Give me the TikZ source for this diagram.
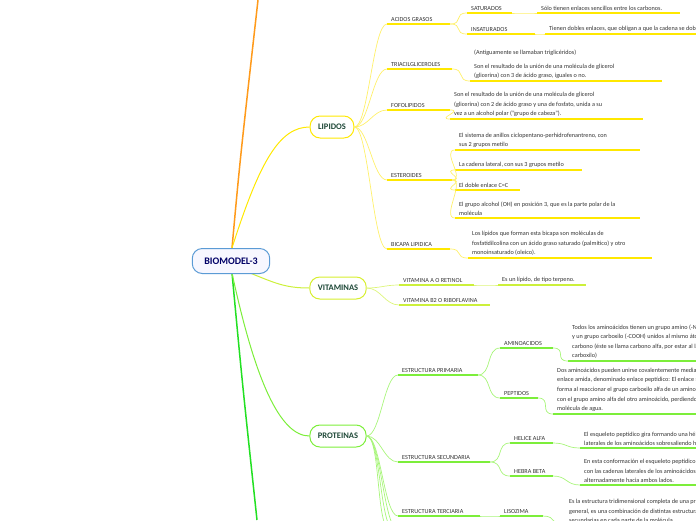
\documentclass[tikz,border=0pt]{standalone}
\usepackage{fontspec}
\setmainfont{Carlito}
\begin{document}
\begin{tikzpicture}[x=1pt,y=-1pt,
  mainnode/.style={draw,rounded corners=10pt,line width=1pt,minimum height=22pt,inner xsep=8pt,font=\fontsize{8.5}{10}\selectfont\bfseries,text={rgb,255:red,30;green,72;blue,55}},
  txt/.style={anchor=south west,inner sep=1pt,align=left,font=\fontsize{6.2}{9.6}\selectfont,text=black!80},
  ul/.style={line width=1.4pt},
  cn/.style={line width=0.7pt},
]
\useasboundingbox (0,0) rectangle (696,520);
\definecolor{cY}{HTML}{FFE800}
\definecolor{cYl}{HTML}{FFF06A}
\definecolor{cV}{HTML}{CCF03A}
\definecolor{cVl}{HTML}{DDF57A}
\definecolor{cP}{HTML}{7CEE3A}
\definecolor{cPl}{HTML}{A8F57A}
\definecolor{cG}{HTML}{22E022}
\definecolor{cO}{HTML}{FF9A1A}
\definecolor{cB}{HTML}{5B9BD5}
\newcommand{\leaf}[6]{%
  \draw[ul,#5] (#2,#3) coordinate (#1-s) -- (#4,#3) coordinate (#1-e);
  \node[txt] (#1) at (#2+3,#3-1) {#6};}
\newcommand{\conn}[3]{\draw[cn,#3] (#1) .. controls +(14,0) and +(-14,0) .. (#2);}

% root
\coordinate (rt) at (232,248);
\coordinate (rb) at (232,273);
\coordinate (otop) at (258,0);
\coordinate (gbot) at (257,520);
\draw[cO,line width=1.5pt] (rt) .. controls (240,160) .. (otop);
\draw[cG,line width=1.5pt] (rb) .. controls (242,380) .. (gbot);
\node[mainnode,draw=cY] (lip) at (332,127) {LIPIDOS};
\node[mainnode,draw=cV!80!cY] (vit) at (338,288) {VITAMINAS};
\node[mainnode,draw=cP] (pro) at (338,436) {PROTEINAS};
\draw[cY,line width=1pt] (rt) .. controls (260,160) and (280,127) .. (lip.west);
\draw[cV,line width=1pt] (250,273) .. controls (275,283) and (285,288) .. (vit.west);
\draw[cP,line width=1pt] (rb) .. controls (255,380) and (280,436) .. (pro.west);
\node[mainnode,draw=cB,fill=blue!3,font=\fontsize{10}{12}\selectfont\bfseries,text=blue!40!black,minimum height=25pt,inner xsep=12pt] (root) at (231,261) {BIOMODEL-3};

% LIPIDOS
\leaf{ag}{387}{24}{450}{cY}{ACIDOS GRASOS}
\leaf{tri}{387}{69}{452}{cY}{TRIACILGLICEROLES}
\leaf{fof}{387}{110}{450}{cY}{FOFOLIPIDOS}
\leaf{est}{387}{180}{452}{cY}{ESTEROIDES}
\leaf{bic}{387}{249}{450}{cY}{BICAPA LIPIDICA}
\foreach \n in {ag,tri,fof,est,bic} {\conn{lip.east}{\n-s}{cYl}}
\leaf{sat}{467}{13}{512}{cY}{SATURADOS}
\leaf{satt}{537}{13}{680}{cY}{Sólo tienen enlaces sencillos entre los carbonos.}
\leaf{ins}{467}{34}{535}{cY}{INSATURADOS}
\leaf{inst}{545}{34}{700}{cY}{Tienen dobles enlaces, que obligan a que la cadena se doble}
\conn{ag-e}{sat-s}{cYl}\conn{ag-e}{ins-s}{cYl}
\conn{sat-e}{satt-s}{cYl}\conn{ins-e}{inst-s}{cYl}
\leaf{trit}{470}{81}{662}{cY}{(Antiguamente se llamaban triglicéridos)\\[4pt]Son el resultado de la unión de una molécula de glicerol\\(glicerina) con 3 de ácido graso, iguales o no.}
\conn{tri-e}{trit-s}{cYl}
\leaf{foft}{450}{119}{643}{cY}{Son el resultado de la unión de una molécula de glicerol\\(glicerina) con 2 de ácido graso y una de fosfato, unida a su\\vez a un alcohol polar ("grupo de cabeza").}
\conn{fof-e}{foft-s}{cYl}
\leaf{e1}{455}{150}{640}{cY}{El sistema de anillos ciclopentano-perhidrofenantreno, con\\sus 2 grupos metilo}
\leaf{e2}{455}{170}{582}{cY}{La cadena lateral, con sus 3 grupos metilo}
\leaf{e3}{455}{190}{520}{cY}{El doble enlace C=C}
\leaf{e4}{455}{218}{640}{cY}{El grupo alcohol (OH) en posición 3, que es la parte polar de la\\molécula}
\foreach \n in {e1,e2,e3,e4} {\conn{est-e}{\n-s}{cYl}}
\leaf{bict}{468}{258}{652}{cY}{Los lípidos que forman esta bicapa son moléculas de\\fosfatidilcolina con un ácido graso saturado (palmítico) y otro\\monoinsaturado (oleico).}
\conn{bic-e}{bict-s}{cYl}

% VITAMINAS
\leaf{va}{399}{285}{474}{cV}{VITAMINA A O RETINOL}
\leaf{vat}{498}{285}{586}{cV}{Es un lípido, de tipo terpeno.}
\leaf{vb}{399}{305}{490}{cV}{VITAMINA B2 O RIBOFLAVINA}
\conn{vit.east}{va-s}{cVl}\conn{vit.east}{vb-s}{cVl}\conn{va-e}{vat-s}{cVl}

% PROTEINAS
\leaf{ep}{398}{375}{478}{cP}{ESTRUCTURA PRIMARIA}
\leaf{es}{398}{462}{490}{cP}{ESTRUCTURA SECUNDARIA}
\leaf{et}{398}{516}{480}{cP}{ESTRUCTURA TERCIARIA}
\coordinate (x1) at (390,530);\coordinate (x2) at (394,530);\coordinate (x3) at (398,530);
\foreach \n in {ep-s,es-s,et-s,x1,x2,x3} {\conn{pro.east}{\n}{cPl}}
\leaf{am}{500}{348}{553}{cP}{AMINOACIDOS}
\leaf{amt}{568}{361}{700}{cP}{Todos los aminoácidos tienen un grupo amino (-NH2)\\y un grupo carboxilo (-COOH) unidos al mismo átomo de\\carbono (éste se llama carbono alfa, por estar al lado del\\carboxilo)}
\leaf{pe}{500}{398}{538}{cP}{PEPTIDOS}
\leaf{pet}{553}{414}{700}{cP}{Dos aminoácidos pueden unirse covalentemente mediante un\\enlace amida, denominado enlace peptídico: El enlace se\\forma al reaccionar el grupo carboxilo alfa de un aminoácido\\con el grupo amino alfa del otro aminoácido, perdiendo una\\molécula de agua.}
\conn{ep-e}{am-s}{cPl}\conn{ep-e}{pe-s}{cPl}\conn{am-e}{amt-s}{cPl}\conn{pe-e}{pet-s}{cPl}
\leaf{ha}{510}{443}{553}{cP}{HELICE ALFA}
\leaf{hat}{580}{448}{700}{cP}{El esqueleto peptídico gira formando una hélice, con las cadenas\\laterales de los aminoácidos sobresaliendo hacia fuera.}
\leaf{hb}{510}{476}{553}{cP}{HEBRA BETA}
\leaf{hbt}{580}{485}{700}{cP}{En esta conformación el esqueleto peptídico está extendido,\\con las cadenas laterales de los aminoácidos sobresaliendo\\alternadamente hacia ambos lados.}
\conn{es-e}{ha-s}{cPl}\conn{es-e}{hb-s}{cPl}\conn{ha-e}{hat-s}{cPl}\conn{hb-e}{hbt-s}{cPl}
\leaf{li}{500}{516}{543}{cP}{LISOZIMA}
\leaf{lit}{565}{526}{700}{cP}{Es la estructura tridimensional completa de una proteína. En\\general, es una combinación de distintas estructuras\\secundarias en cada parte de la molécula.}
\conn{et-e}{li-s}{cPl}\conn{li-e}{lit-s}{cPl}
\end{tikzpicture}
\end{document}
